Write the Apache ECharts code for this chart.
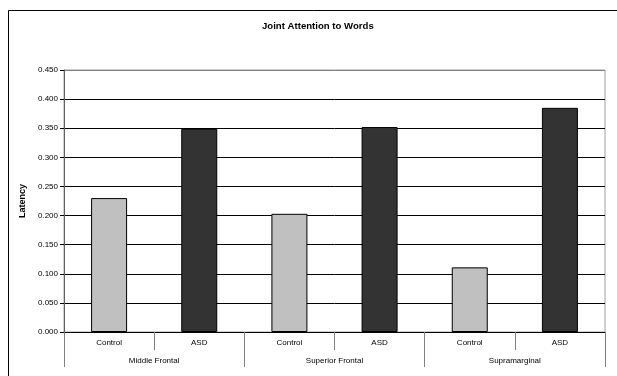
<!DOCTYPE html>
<html>
<head>
<meta charset="utf-8">
<script src="https://cdn.jsdelivr.net/npm/echarts@6/dist/echarts.min.js"></script>
<style>html,body{margin:0;padding:0;background:#fff}#c{width:617px;height:376px}</style>
</head>
<body>
<div id="c"></div>
<script>
const titleText = 'Joint Attention to Words';
const yAxisName = 'Latency';
const subCategories = ['Control', 'ASD', 'Control', 'ASD', 'Control', 'ASD'];
const groups = ['Middle Frontal', 'Superior Frontal', 'Supramarginal'];
const controlValues = [0.230, 0.203, 0.111];
const asdValues = [0.349, 0.352, 0.385];

const controlData = [];
const asdData = [];
for (let i = 0; i < groups.length; i++) {
  controlData.push(controlValues[i], '-');
  asdData.push('-', asdValues[i]);
}

const font = 'Liberation Sans, Arial, sans-serif';
const chart = echarts.init(document.getElementById('c'), null, {renderer: 'canvas'});
chart.setOption({
  animation: false,
  backgroundColor: '#fff',
  graphic: [{
    type: 'rect', z: -1, silent: true,
    shape: {x: 8.5, y: 10.5, width: 700, height: 500},
    style: {fill: 'none', stroke: '#000', lineWidth: 1}
  }],
  title: {
    text: titleText, left: 257, top: 16,
    textStyle: {fontFamily: font, fontSize: 9.6, fontWeight: 'bold', color: '#000'}
  },
  grid: {left: 64, top: 70, right: 12, bottom: 44, show: true, borderColor: '#a0a0a0', borderWidth: 1, backgroundColor: 'transparent'},
  xAxis: [{
    type: 'category', data: subCategories, position: 'bottom',
    axisLine: {lineStyle: {color: '#000', width: 1}},
    axisTick: {show: true, length: 18, interval: 0, lineStyle: {color: '#808080'}},
    axisLabel: {interval: 0, margin: 7, fontFamily: font, fontSize: 8, color: '#000'}
  }, {
    type: 'category', data: groups, position: 'bottom', offset: 0,
    axisLine: {show: false},
    axisTick: {show: true, length: 35, interval: 0, lineStyle: {color: '#808080'}},
    axisLabel: {interval: 0, margin: 25, fontFamily: font, fontSize: 8, color: '#000'}
  }],
  yAxis: {
    type: 'value', min: 0, max: 0.45, interval: 0.05,
    name: yAxisName, nameLocation: 'middle', nameGap: 29,
    nameTextStyle: {fontFamily: font, fontSize: 9, fontWeight: 'bold', color: '#000'},
    axisLine: {show: true, lineStyle: {color: '#606060'}},
    axisTick: {show: true, length: 4, lineStyle: {color: '#000'}},
    axisLabel: {margin: 6, fontFamily: font, fontSize: 8, color: '#000', formatter: v => v.toFixed(3)},
    splitLine: {show: true, lineStyle: {color: ['#000','#000','#000','#000','#000','#000','#000','#000','#000','#808080'], width: 1}}
  },
  series: [{
    name: 'Control', type: 'bar', data: controlData, barWidth: 36, barGap: '-100%',
    itemStyle: {color: '#c0c0c0', borderColor: '#000', borderWidth: 1}
  }, {
    name: 'ASD', type: 'bar', data: asdData, barWidth: 36, barGap: '-100%',
    itemStyle: {color: '#333333', borderColor: '#000', borderWidth: 1}
  }]
});
</script>
</body>
</html>
